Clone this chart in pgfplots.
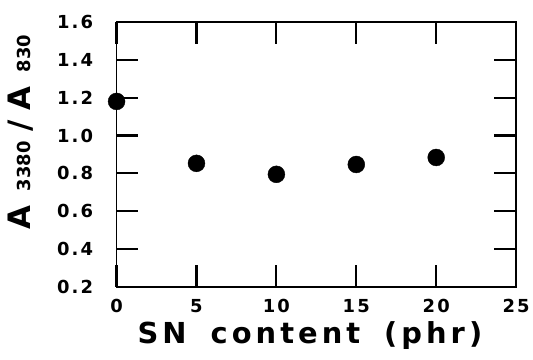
\documentclass[border=0pt]{standalone}
\usepackage{fontspec}
\setmainfont{DejaVu Sans}
\newfontfamily\tickfont[LetterSpace=12]{DejaVu Sans Bold}
\newfontfamily\labfont[LetterSpace=14]{DejaVu Sans Bold}
\newfontfamily\boldfont{DejaVu Sans Bold}
\usepackage{pgfplots}
\pgfplotsset{compat=1.18}
\begin{document}
\begin{tikzpicture}
\begin{axis}[
  scale only axis, width=401pt, height=266pt,
  xmin=0, xmax=25, ymin=0.2, ymax=1.6,
  xtick={0,5,10,15,20,25}, ytick={0.2,0.4,0.6,0.8,1.0,1.2,1.4,1.6},
  xtick pos=both, ytick pos=both,
  tick align=inside, major tick length=22pt,
  axis line style={line width=1.6pt},
  every major tick/.append style={line width=2.2pt, draw=black},
  /pgf/number format/assume math mode=true,
  yticklabel={\pgfmathprintnumber[fixed,fixed zerofill,precision=1]{\tick}},
  ticklabel style={font=\tickfont\fontsize{18}{20}\selectfont},
  yticklabel style={anchor=east, xshift=-20pt},
  xticklabel style={anchor=center, yshift=-19pt},
  xlabel={SN\hspace{24pt}content\hspace{24pt}(phr)},
  xlabel style={font=\labfont\fontsize{29}{32}\selectfont,
    at={(axis description cs:0.484,-0.184)}, anchor=center},
  ylabel={A\hspace{14pt}{\fontsize{18}{20}\selectfont 3380}\hspace{10pt}/\hspace{10pt}A\hspace{14pt}{\fontsize{18}{20}\selectfont 830}},
  ylabel style={font=\boldfont\fontsize{31}{34}\selectfont,
    at={(axis description cs:-0.239,0.585)}, anchor=center},
  clip=false,
]
\addplot[only marks, mark=*, mark size=8.5pt, black] coordinates {
(0,1.18) (5,0.853) (10,0.795) (15,0.847) (20,0.884)
};
\end{axis}
\path (current axis.south west) ++(-117pt,-73pt) rectangle ++(533pt,361pt);
\end{tikzpicture}
\end{document}
